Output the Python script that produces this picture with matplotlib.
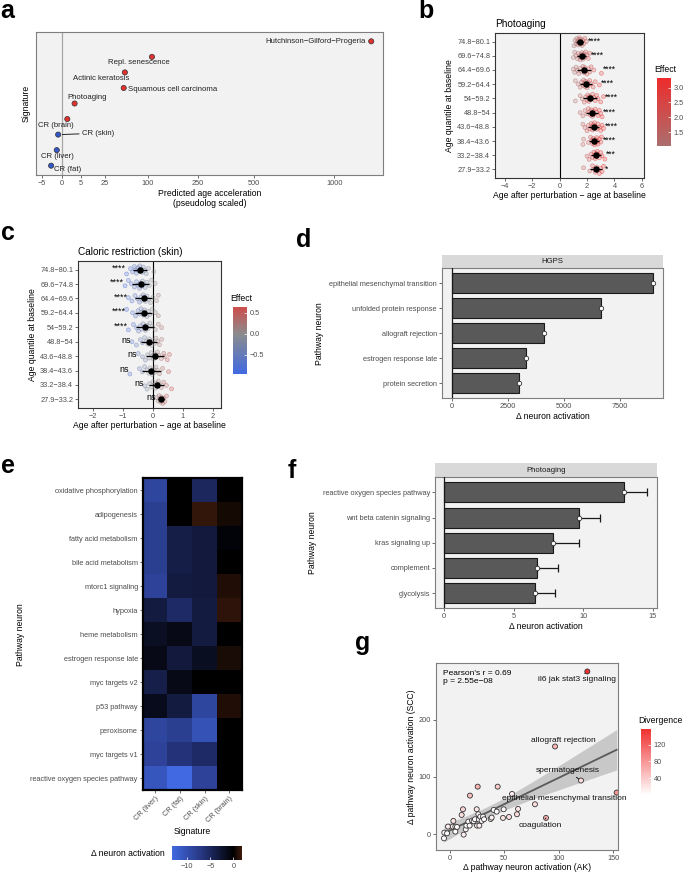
import numpy as np
import matplotlib
matplotlib.use("Agg")
import matplotlib.pyplot as plt
from matplotlib.colors import LinearSegmentedColormap, Normalize
from matplotlib.cm import ScalarMappable

plt.rcParams['font.family'] = ['Liberation Sans', 'DejaVu Sans']

# ---------------- data ----------------
# a: predicted age acceleration per signature
sig_names = ['Hutchinson−Gilford−Progeria', 'Repl. senescence', 'Actinic keratosis',
             'Squamous cell carcinoma', 'Photoaging', 'CR (brain)', 'CR (skin)',
             'CR (liver)', 'CR (fat)']
sig_accel = [1290, 110, 54, 52, 2.3, 0.45, -0.15, -0.3, -1.45]

# b / c: age after perturbation - age at baseline, per baseline age quantile
age_bins = ['74.8−80.1', '69.6−74.8', '64.4−69.6', '59.2−64.4', '54−59.2',
            '48.8−54', '43.6−48.8', '38.4−43.6', '33.2−38.4', '27.9−33.2']
photo_pts = [
    [1.05, 1.12, 1.2, 1.25, 1.3, 1.35, 1.38, 1.42, 1.45, 1.5, 1.52, 1.55, 1.6, 1.65, 1.7, 1.78, 1.85, 1.95],
    [1.0, 1.1, 1.2, 1.3, 1.35, 1.45, 1.5, 1.55, 1.6, 1.62, 1.68, 1.72, 1.78, 1.85, 1.9, 2.0, 2.1, 2.2],
    [1.0, 1.1, 1.2, 1.3, 1.4, 1.5, 1.6, 1.7, 1.75, 1.8, 1.85, 1.9, 2.0, 2.1, 2.2, 2.3, 2.5, 3.05],
    [1.15, 1.35, 1.5, 1.6, 1.7, 1.75, 1.8, 1.85, 1.9, 1.95, 2.0, 2.05, 2.1, 2.2, 2.3, 2.45, 2.6, 2.9],
    [1.15, 1.5, 1.65, 1.8, 1.9, 2.0, 2.05, 2.1, 2.15, 2.2, 2.3, 2.4, 2.5, 2.6, 2.7, 2.8, 3.0, 3.2],
    [1.5, 1.7, 1.85, 2.0, 2.1, 2.2, 2.25, 2.3, 2.35, 2.4, 2.45, 2.5, 2.6, 2.7, 2.8, 2.9, 3.0, 3.1],
    [1.7, 1.85, 2.0, 2.1, 2.2, 2.3, 2.35, 2.4, 2.45, 2.5, 2.55, 2.6, 2.7, 2.8, 2.9, 3.0, 3.1, 3.2],
    [1.7, 1.75, 2.1, 2.25, 2.35, 2.4, 2.45, 2.5, 2.55, 2.6, 2.65, 2.7, 2.75, 2.8, 2.9, 3.0, 3.05],
    [2.0, 2.15, 2.3, 2.4, 2.5, 2.55, 2.6, 2.65, 2.7, 2.75, 2.8, 2.9, 3.0, 3.1, 3.3],
    [1.75, 2.2, 2.4, 2.5, 2.6, 2.7, 2.8, 2.9, 3.0, 3.1, 3.2],
]
photo_sig = ['****'] * 8 + ['***', '*']

crskin_pts = [
    [-0.88, -0.75, -0.68, -0.62, -0.58, -0.55, -0.5, -0.47, -0.44, -0.4, -0.36, -0.32, -0.28, -0.22, -0.15, 0.03],
    [-0.93, -0.82, -0.72, -0.62, -0.55, -0.5, -0.45, -0.42, -0.38, -0.35, -0.3, -0.26, -0.2, -0.12, -0.05, 0.07],
    [-0.82, -0.7, -0.6, -0.52, -0.45, -0.4, -0.36, -0.32, -0.28, -0.25, -0.2, -0.15, -0.08, 0.0, 0.12, 0.18],
    [-0.88, -0.68, -0.58, -0.5, -0.45, -0.4, -0.36, -0.32, -0.28, -0.24, -0.2, -0.15, -0.1, -0.02, 0.08, 0.18],
    [-0.82, -0.65, -0.55, -0.48, -0.42, -0.38, -0.33, -0.29, -0.25, -0.2, -0.15, -0.1, -0.02, 0.08, 0.18, 0.29],
    [-0.7, -0.55, -0.42, -0.35, -0.28, -0.22, -0.17, -0.12, -0.08, -0.04, 0.0, 0.05, 0.1, 0.16, 0.22, 0.29],
    [-0.49, -0.35, -0.25, -0.18, -0.12, -0.06, -0.02, 0.02, 0.06, 0.1, 0.15, 0.2, 0.28, 0.36, 0.38, 0.48, 0.55],
    [-0.77, -0.45, -0.35, -0.28, -0.2, -0.14, -0.1, -0.06, -0.02, 0.02, 0.06, 0.1, 0.16, 0.22, 0.32, 0.52],
    [-0.27, -0.2, -0.12, -0.05, 0.0, 0.05, 0.08, 0.12, 0.15, 0.18, 0.22, 0.28, 0.36, 0.45, 0.62],
    [0.12, 0.17, 0.2, 0.23, 0.26, 0.28, 0.3, 0.33, 0.36, 0.4, 0.45],
]
crskin_sig = ['****'] * 5 + ['ns'] * 5

# d: HGPS pathway neurons
hgps_paths = ['epithelial mesenchymal transition', 'unfolded protein response',
              'allograft rejection', 'estrogen response late', 'protein secretion']
hgps_delta = [8970, 6650, 4135, 3330, 3020]

# e: CR signatures heatmap
e_rows = ['oxidative phosphorylation', 'adipogenesis', 'fatty acid metabolism',
          'bile acid metabolism', 'mtorc1 signaling', 'hypoxia', 'heme metabolism',
          'estrogen response late', 'myc targets v2', 'p53 pathway', 'peroxisome',
          'myc targets v1', 'reactive oxygen species pathway']
e_cols = ['CR (liver)', 'CR (fat)', 'CR (skin)', 'CR (brain)']
e_vals = [
    [-9.0, -0.1, -5.0, 0.0],
    [-8.0, -0.1, 1.5, 0.6],
    [-8.0, -3.8, -3.2, -0.4],
    [-8.0, -3.8, -3.2, 0.0],
    [-8.5, -3.5, -3.2, 0.9],
    [-3.5, -5.5, -3.5, 1.3],
    [-2.0, -1.2, -3.5, 0.0],
    [-1.2, -3.2, -1.8, 0.7],
    [-4.0, -1.2, 0.0, 0.0],
    [-1.5, -3.5, -9.0, 0.9],
    [-9.0, -8.0, -10.5, 0.0],
    [-8.5, -6.5, -5.5, 0.0],
    [-11.0, -13.4, -8.5, 0.0],
]

# f: photoaging pathway neurons
photo_paths = ['reactive oxygen species pathway', 'wnt beta catenin signaling',
               'kras signaling up', 'complement', 'glycolysis']
photo_delta = [12.96, 9.7, 7.8, 6.67, 6.5]
photo_err = [1.64, 1.5, 1.88, 1.5, 1.5]

# g: AK vs SCC pathway activation
ak_act = [-5.2, -4.9, -2.4, -1.5, 2.8, 3.4, 5.2, 5.2, 6.7, 12.2, 11.0, 12.8, 14.7, 15.3,
          17.1, 18.6, 18.3, 20.5, 22.0, 23.2, 24.8, 25.7, 25.1, 26.3, 26.9, 27.2, 28.1,
          29.3, 30.6, 31.5, 37.6, 38.5, 40.3, 43.1, 44.0, 48.9, 49.5, 54.4, 57.2, 61.7,
          62.7, 78.2, 88.3, 96.6, 120.4, 153.1, 126.2]
scc_act = [-7.0, 2.9, 1.7, 13.4, 13.4, 23.3, 13.4, 4.7, 12.8, 43.6, 33.7, -0.6, 8.7, 15.1,
           22.0, 67.4, 15.1, 23.8, 22.7, 26.2, 43.6, 83.0, 15.1, 34.9, 25.6, 15.1, 30.8,
           23.3, 30.8, 26.2, 26.7, 29.1, 42.4, 39.5, 83.0, 28.5, 43.6, 30.2, 70.3, 34.9,
           44.2, 52.3, 28.5, 153.0, 93.6, 72.7, 283.7]
g_named = {46: 'il6 jak stat3 signaling', 43: 'allograft rejection',
           44: 'spermatogenesis', 45: 'epithelial mesenchymal transition',
           42: 'coagulation'}

# ---------------- helpers ----------------
W, H = 685, 872
fig = plt.figure(figsize=(W / 100, H / 100), dpi=100)

BG = '#F2F2F2'
TICKC = '#4D4D4D'
TS = 5.3   # tick label size
AS = 6.2   # axis title size


def px_axes(x0, y0, x1, y1):
    return fig.add_axes([x0 / W, 1 - y1 / H, (x1 - x0) / W, (y1 - y0) / H])


def gg_style(ax, border='#7F7F7F', lw=0.8):
    ax.set_facecolor(BG)
    for s in ax.spines.values():
        s.set_color(border)
        s.set_linewidth(lw)
    ax.tick_params(labelsize=TS, labelcolor=TICKC, color='#333333', length=2, width=0.5, pad=1.5)


def letter(x, y, s):
    fig.text(x / W, 1 - y / H, s, fontsize=18, fontweight='bold', va='baseline', ha='left')


def colorbar(x0, y0, x1, y1, cmap, norm, ticks, title, horizontal=False):
    cax = px_axes(x0, y0, x1, y1)
    cb = fig.colorbar(ScalarMappable(norm=norm, cmap=cmap), cax=cax,
                      orientation='horizontal' if horizontal else 'vertical')
    cb.outline.set_visible(False)
    cb.set_ticks(ticks)
    cax.tick_params(labelsize=TS, labelcolor=TICKC, color='white', direction='in',
                    length=2, width=0.5, pad=2)
    if title:
        fig.text((x0 - 3) / W, 1 - (y0 - 6) / H, title, fontsize=AS, ha='left', va='baseline')
    return cax


EFFECT_COLS = ['#4169E1', '#8C8C8C', '#EE2C2C']


def effect_cmap(vmin, vmax, lim):
    base = LinearSegmentedColormap.from_list('eff', EFFECT_COLS)
    t = np.linspace(0.5 + vmin / (2 * lim), 0.5 + vmax / (2 * lim), 256)
    return LinearSegmentedColormap.from_list('sub', base(t))


def jitter_panel(ax, rows, sig, cmap, norm, sig_side):
    n = len(rows)
    for i, vals in enumerate(rows):
        y = n - 1 - i
        v = np.array(vals)
        off = ((np.arange(len(v)) * 0.618034 + i * 0.3) % 1 - 0.5) * 0.6
        cols = cmap(norm(v))
        face = cols.copy()
        face[:, 3] = 0.22
        edge = cols.copy()
        edge[:, 3] = 0.5
        ax.scatter(v, y + off, s=8, c=face, edgecolors=edge, linewidths=0.5, zorder=2)
        m, sd = v.mean(), v.std(ddof=1)
        ax.hlines(y, m - sd, m + sd, color='black', lw=0.9, zorder=3)
        ax.scatter([m], [y], s=13, color='black', zorder=4)
        if sig_side == 'right':
            ax.text(v.max() + 0.08, y + 0.05, sig[i], fontsize=6.2, ha='left', va='center', zorder=5)
        else:
            ax.text(v.min() - 0.03, y + 0.1, sig[i], fontsize=6.4, ha='right', va='center', zorder=5)
    ax.set_yticks(range(n))
    ax.set_yticklabels(age_bins[::-1])
    ax.set_ylim(-0.6, n - 0.4)
    ax.axvline(0, color='black', lw=0.8, zorder=1)
    ax.set_ylabel('Age quantile at baseline', fontsize=AS, labelpad=2)
    ax.set_xlabel('Age after perturbation − age at baseline', fontsize=AS, labelpad=1)


# ---------------- a ----------------
ax = px_axes(36, 32, 383, 175)
gg_style(ax)


def ssqrt(x):
    return np.sign(x) * np.sqrt(np.abs(x))


def ssqrt_inv(y):
    return np.sign(y) * y ** 2


ax.set_xscale('function', functions=(ssqrt, ssqrt_inv))
ax.set_xlim(-8.75, 1390)
ax.set_xticks([-5, 0, 5, 25, 100, 250, 500, 1000])
ax.set_xticklabels(['−5', '0', '5', '25', '100', '250', '500', '1000'])
ax.set_yticks([])
ax.set_ylim(0.4, len(sig_names) + 0.6)
ax.axvline(0, color='#A6A6A6', lw=0.9, zorder=1)
ypos = [len(sig_names) - i for i in range(len(sig_names))]
ax.scatter(sig_accel, ypos, s=14, c=['#E0312F' if v > 0 else '#3457C8' for v in sig_accel],
           edgecolors='#333333', linewidths=0.5, zorder=3)
a_off = [(-5, 0, 'right'), (-12.7, -5.3, 'center'), (-23.8, -6, 'center'), (4, -2, 'left'),
         (12.7, 5.7, 'center'), (-11, -6, 'center'), (23.7, 1.3, 'left'), (0.8, -6.3, 'center'),
         (16.7, -4, 'center')]
for name, xv, yv, (dx, dy, ha) in zip(sig_names, sig_accel, ypos, a_off):
    kw = {}
    if name == 'CR (skin)':
        kw['arrowprops'] = dict(arrowstyle='-', color='black', lw=0.6, shrinkA=0, shrinkB=3)
    ax.annotate(name, (xv, yv), xytext=(dx, dy), textcoords='offset pixels', ha=ha,
                va='center', fontsize=5.6, color='#222222', **kw)
ax.set_ylabel('Signature', fontsize=AS, labelpad=4)
ax.set_xlabel('Predicted age acceleration\n(pseudolog scaled)', fontsize=AS, labelpad=1.5,
              linespacing=1.1)
letter(0, 18, 'a')

# ---------------- b ----------------
ax = px_axes(495, 33, 644, 178)
gg_style(ax, border='#333333')
b_lo, b_hi = 1.04, 3.32
cmap_b = effect_cmap(b_lo, b_hi, b_hi)
norm_b = Normalize(b_lo, b_hi)
jitter_panel(ax, photo_pts, photo_sig, cmap_b, norm_b, 'right')
ax.set_xlim(-4.7, 6.15)
ax.set_xticks([-4, -2, 0, 2, 4, 6])
ax.set_xticklabels(['−4', '−2', '0', '2', '4', '6'])
ax.set_title('Photoaging', fontsize=7.2, loc='left', pad=4)
colorbar(657, 78, 671, 146, cmap_b, norm_b, [1.5, 2.0, 2.5, 3.0], 'Effect')
letter(418, 18, 'b')

# ---------------- c ----------------
ax = px_axes(78, 261, 221, 408)
gg_style(ax, border='#333333')
c_lo, c_hi = -0.95, 0.63
cmap_c = effect_cmap(c_lo, c_hi, 0.95)
norm_c = Normalize(c_lo, c_hi)
jitter_panel(ax, crskin_pts, crskin_sig, cmap_c, norm_c, 'left')
ax.set_xlim(-2.5, 2.27)
ax.set_xticks([-2, -1, 0, 1, 2])
ax.set_xticklabels(['−2', '−1', '0', '1', '2'])
ax.set_title('Caloric restriction (skin)', fontsize=7.2, loc='left', pad=4)
cax_c = colorbar(233, 307, 247, 374, cmap_c, norm_c, [-0.5, 0.0, 0.5], 'Effect')
cax_c.set_yticklabels(['−0.5', '0.0', '0.5'])
letter(1, 240, 'c')


# ---------------- d / f ----------------
def bar_panel(rect, strip, names, vals, err, xlim, xticks, label):
    x0, y0, x1, y1 = rect
    sax = px_axes(x0, strip, x1, y0)
    sax.set_facecolor('#D9D9D9')
    sax.set_xticks([])
    sax.set_yticks([])
    for s in sax.spines.values():
        s.set_visible(False)
    sax.text(0.5, 0.5, label, fontsize=5.6, color='#1A1A1A', ha='center', va='center',
             transform=sax.transAxes)
    ax = px_axes(x0, y0, x1, y1)
    gg_style(ax)
    n = len(names)
    yy = np.arange(n)[::-1]
    ax.barh(yy, vals, height=0.8, color='#595959', edgecolor='#1A1A1A', linewidth=0.8, zorder=2)
    if err is not None:
        ax.errorbar(vals, yy, xerr=[np.zeros(n), err], fmt='none', ecolor='#1A1A1A',
                    elinewidth=0.9, capsize=3.2, capthick=0.9, zorder=3)
    ax.scatter(vals, yy, s=10, facecolor='white', edgecolor='#333333', linewidths=0.6, zorder=4)
    ax.axvline(0, color='#1A1A1A', lw=0.9, zorder=3)
    ax.set_yticks(yy)
    ax.set_yticklabels(names)
    ax.set_ylim(-0.6, n - 0.4)
    ax.set_xlim(*xlim)
    ax.set_xticks(xticks)
    ax.set_ylabel('Pathway neuron', fontsize=AS, labelpad=4)
    ax.set_xlabel('Δ neuron activation', fontsize=AS, labelpad=1)
    return ax


bar_panel((441.7, 268.3, 663.3, 398.3), 255, hgps_paths, hgps_delta, None,
          (-446, 9446), [0, 2500, 5000, 7500], 'HGPS')
letter(296, 247, 'd')

bar_panel((435, 477.3, 656.7, 608.3), 463.3, photo_paths, photo_delta, photo_err,
          (-0.67, 15.3), [0, 5, 10, 15], 'Photoaging')
letter(288, 478, 'f')

# ---------------- e ----------------
ax = px_axes(142.7, 478.3, 241.7, 790)
e_lo, e_hi = -13.4, 1.8
anchors = [(-13.4, '#4169E1'), (-6.7, '#25347D'), (0.0, '#000000'), (1.8, '#3D1A0C')]
cmap_e = LinearSegmentedColormap.from_list(
    'hm', [((v - e_lo) / (e_hi - e_lo), c) for v, c in anchors])
norm_e = Normalize(e_lo, e_hi)
ax.pcolormesh(np.arange(len(e_cols) + 1), np.arange(len(e_rows) + 1),
              np.array(e_vals)[::-1], cmap=cmap_e, norm=norm_e)
for s in ax.spines.values():
    s.set_color('black')
    s.set_linewidth(1.6)
ax.tick_params(labelsize=TS, labelcolor=TICKC, color='#333333', length=2, width=0.5, pad=1.5)
ax.set_xticks(np.arange(len(e_cols)) + 0.5)
ax.set_xticklabels(e_cols, rotation=45, ha='right', rotation_mode='anchor')
ax.set_yticks(np.arange(len(e_rows)) + 0.5)
ax.set_yticklabels(e_rows[::-1])
ax.set_ylabel('Pathway neuron', fontsize=AS, labelpad=4)
ax.set_xlabel('Signature', fontsize=AS, labelpad=2)
cax_e = colorbar(171.7, 846, 241.7, 860, cmap_e, norm_e, [-10, -5, 0], None, horizontal=True)
cax_e.set_xticklabels(['−10', '−5', '0'])
fig.text(165 / W, 1 - 853 / H, 'Δ neuron activation', fontsize=AS, ha='right', va='center')
letter(1, 473, 'e')

# ---------------- g ----------------
ax = px_axes(435.7, 662.7, 618.3, 850)
gg_style(ax)
ak = np.array(ak_act)
scc = np.array(scc_act)
div = np.abs(scc - ak)
# linear fit with 95% band
slope, icpt = np.polyfit(ak, scc, 1)
xs = np.linspace(ak.min(), ak.max(), 100)
fit = icpt + slope * xs
resid = scc - (icpt + slope * ak)
s_err = np.sqrt(np.sum(resid ** 2) / (len(ak) - 2))
se = s_err * np.sqrt(1 / len(ak) + (xs - ak.mean()) ** 2 / np.sum((ak - ak.mean()) ** 2))
ax.fill_between(xs, fit - 2.01 * se, fit + 2.01 * se, color='#C8C8C8', lw=0, zorder=1)
ax.plot(xs, fit, color='#5A5A5A', lw=1.3, zorder=2)
cmap_g = LinearSegmentedColormap.from_list('div', ['#FFFFFF', '#F03030'])
norm_g = Normalize(0, div.max())
ax.scatter(ak, scc, s=13, c=div, cmap=cmap_g, norm=norm_g, edgecolors='#333333',
           linewidths=0.6, zorder=3)
g_off = {46: (-10.6, -8.3, True), 43: (8.2, 5.9, False), 44: (-13.5, 9.6, True),
         45: (-52.4, -5.7, False), 42: (-5.7, -7.3, True)}
for k, name in g_named.items():
    dx, dy, seg = g_off[k]
    kw = {}
    if seg:
        kw['arrowprops'] = dict(arrowstyle='-', color='black', lw=0.6, shrinkA=0, shrinkB=2)
    ax.annotate(name, (ak[k], scc[k]), xytext=(dx, dy), textcoords='offset pixels',
                ha='center', va='center', fontsize=6.0, color='#111111', zorder=5, **kw)
ax.text(0.04, 0.96, "Pearson's r = 0.69\np = 2.55e−08", transform=ax.transAxes,
        fontsize=6.0, va='top', ha='left', linespacing=1.25)
ax.set_xlim(-12.8, 154.6)
ax.set_ylim(-27.4, 299)
ax.set_xticks([0, 50, 100, 150])
ax.set_yticks([0, 100, 200])
ax.set_xlabel('Δ pathway neuron activation (AK)', fontsize=AS, labelpad=1)
ax.set_ylabel('Δ pathway neuron activation (SCC)', fontsize=AS, labelpad=2)
colorbar(641, 729, 651, 795, cmap_g, norm_g, [40, 80, 120], 'Divergence')
letter(355, 650, 'g')

fig.savefig('out.png', dpi=100, facecolor='white')
